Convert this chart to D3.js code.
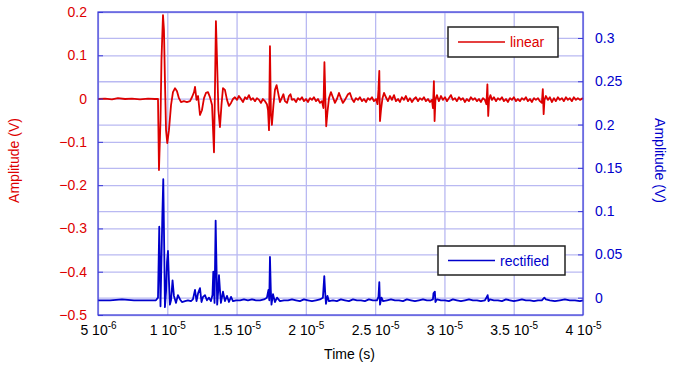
<!DOCTYPE html>
<html>
<head>
<meta charset="utf-8">
<script src="https://cdn.jsdelivr.net/npm/d3@7"></script>
<style>
  body { margin: 0; background: #fff; }
  text { font-family: "Liberation Sans", Arial, sans-serif; }
  .grid line { stroke: #b9b9f2; stroke-width: 1.3; }
  .grid path { display: none; }
  .axis path { display: none; }
  .axis line { stroke: #3a3ad8; }
</style>
</head>
<body>
<script>
// time in microseconds, amplitudes in volts

var linearTime = [5.00, 5.51, 6.01, 6.44, 6.95, 7.45, 8.03, 8.61, 9.11, 9.33,
  9.40, 9.51, 9.58, 9.69, 9.76, 9.83, 9.91, 10.00, 10.12, 10.27,
  10.41, 10.56, 10.70, 10.84, 10.99, 11.20, 11.42, 11.64, 11.78, 11.93,
  12.00, 12.11, 12.22, 12.36, 12.50, 12.65, 12.79, 12.94, 13.08, 13.23,
  13.37, 13.44, 13.51, 13.59, 13.69, 13.80, 13.91, 14.02, 14.16, 14.31,
  14.45, 14.60, 14.74, 14.88, 15.03, 15.17, 15.32, 15.46, 15.61, 15.75,
  15.89, 16.04, 16.18, 16.33, 16.47, 16.62, 16.76, 16.90, 17.05, 17.19,
  17.27, 17.34, 17.41, 17.48, 17.55, 17.66, 17.77, 17.89, 17.99, 18.13,
  18.28, 18.38, 18.49, 18.64, 18.78, 18.89, 19.00, 19.14, 19.29, 19.43,
  19.57, 19.72, 19.86, 20.01, 20.15, 20.30, 20.44, 20.58, 20.73, 20.87,
  21.02, 21.16, 21.27, 21.34, 21.41, 21.47, 21.56, 21.67, 21.81, 21.95,
  22.10, 22.24, 22.39, 22.53, 22.67, 22.82, 23.04, 23.18, 23.33, 23.47,
  23.61, 23.76, 23.90, 24.05, 24.19, 24.34, 24.48, 24.62, 24.77, 24.91,
  25.06, 25.17, 25.24, 25.30, 25.35, 25.42, 25.53, 25.64, 25.78, 25.92,
  26.07, 26.21, 26.36, 26.50, 26.65, 26.79, 26.93, 27.08, 27.22, 27.37,
  27.51, 27.66, 27.80, 27.94, 28.09, 28.23, 28.38, 28.52, 28.66, 28.81,
  28.95, 29.10, 29.17, 29.24, 29.29, 29.35, 29.46, 29.60, 29.75, 29.89,
  30.04, 30.18, 30.32, 30.47, 30.61, 30.76, 30.90, 31.05, 31.19, 31.33,
  31.48, 31.62, 31.77, 31.91, 32.06, 32.20, 32.35, 32.49, 32.63, 32.78,
  32.92, 33.03, 33.10, 33.16, 33.22, 33.32, 33.43, 33.57, 33.72, 33.86,
  34.00, 34.15, 34.29, 34.44, 34.58, 34.73, 34.87, 35.01, 35.16, 35.30,
  35.45, 35.59, 35.74, 35.88, 36.02, 36.17, 36.31, 36.46, 36.60, 36.75,
  36.89, 37.03, 37.10, 37.16, 37.22, 37.32, 37.47, 37.61, 37.76, 37.90,
  38.04, 38.19, 38.33, 38.48, 38.62, 38.77, 38.91, 39.05, 39.20, 39.34,
  39.49, 39.63, 39.78, 40.00];

var linearValue = [-0.001, 0.000, -0.002, 0.001, -0.001, 0.000, -0.002, 0.000, -0.001, -0.001,
  -0.165, -0.050, 0.089, 0.193, 0.158, 0.043, -0.073, -0.103, -0.073, -0.015,
  0.015, 0.024, 0.017, 0.001, -0.008, -0.006, -0.008, -0.006, 0.003, 0.015,
  0.027, -0.003, 0.006, -0.038, -0.027, 0.001, 0.013, 0.015, 0.003, -0.015,
  -0.124, 0.020, 0.179, 0.089, -0.027, -0.066, -0.015, 0.024, 0.020, -0.003,
  -0.017, -0.010, -0.001, 0.003, -0.003, 0.006, -0.001, -0.008, 0.003, -0.001,
  0.008, -0.003, 0.001, -0.006, 0.001, -0.003, -0.010, -0.001, -0.006, -0.013,
  -0.027, -0.073, 0.121, -0.038, -0.061, -0.015, 0.020, 0.031, 0.015, -0.008,
  0.003, 0.010, -0.006, -0.010, 0.006, 0.010, -0.003, -0.001, -0.008, 0.001,
  -0.003, 0.003, -0.006, -0.001, -0.008, 0.001, -0.003, 0.003, -0.006, -0.001,
  -0.010, -0.006, -0.022, 0.084, -0.003, -0.064, -0.031, 0.001, 0.015, 0.003,
  -0.010, -0.001, 0.013, 0.001, -0.010, -0.003, 0.010, 0.013, -0.001, -0.008,
  0.001, -0.003, 0.003, -0.006, -0.001, -0.008, 0.001, -0.003, 0.003, -0.006,
  -0.001, -0.013, 0.020, 0.064, -0.052, -0.027, 0.001, 0.013, 0.003, -0.006,
  0.006, -0.003, 0.008, -0.006, -0.001, -0.008, 0.003, -0.003, 0.006, -0.006,
  0.001, -0.008, -0.001, 0.003, -0.006, 0.001, -0.003, 0.003, -0.006, -0.001,
  -0.008, -0.003, -0.022, 0.040, -0.052, -0.003, 0.008, -0.006, 0.006, -0.003,
  0.003, -0.006, 0.001, 0.008, -0.003, 0.001, -0.006, 0.003, -0.003, 0.001,
  -0.008, -0.001, -0.006, 0.003, -0.003, 0.001, -0.006, -0.001, -0.008, 0.001,
  -0.003, -0.013, 0.033, -0.040, -0.003, 0.008, -0.003, 0.003, -0.006, 0.001,
  -0.003, 0.003, -0.006, -0.001, -0.008, 0.001, -0.003, 0.003, -0.006, -0.001,
  -0.006, 0.001, -0.003, 0.003, -0.006, -0.001, -0.008, 0.001, -0.003, 0.001,
  -0.006, -0.010, 0.022, -0.036, -0.003, 0.006, -0.003, 0.003, -0.008, 0.001,
  -0.006, 0.003, -0.003, 0.001, -0.006, 0.003, -0.003, 0.001, -0.006, 0.003,
  -0.003, 0.001, -0.003, 0.001];

var rectTime = [5.00, 5.87, 6.73, 7.60, 8.46, 9.18, 9.33, 9.42, 9.51, 9.58,
  9.64, 9.71, 9.78, 9.83, 9.91, 9.98, 10.05, 10.12, 10.19, 10.27,
  10.38, 10.48, 10.63, 10.77, 10.92, 11.06, 11.28, 11.49, 11.71, 11.85,
  12.00, 12.11, 12.22, 12.36, 12.47, 12.58, 12.72, 12.86, 13.01, 13.15,
  13.26, 13.32, 13.41, 13.49, 13.55, 13.60, 13.68, 13.73, 13.80, 13.87,
  14.02, 14.16, 14.31, 14.45, 14.60, 14.74, 14.96, 15.25, 15.53, 15.82,
  16.11, 16.40, 16.69, 16.98, 17.19, 17.30, 17.36, 17.41, 17.47, 17.52,
  17.63, 17.77, 17.92, 18.13, 18.42, 18.71, 19.00, 19.29, 19.57, 19.86,
  20.15, 20.44, 20.73, 21.02, 21.23, 21.33, 21.39, 21.45, 21.56, 21.67,
  21.95, 22.24, 22.53, 22.82, 23.11, 23.40, 23.69, 23.98, 24.26, 24.55,
  24.84, 25.13, 25.24, 25.30, 25.35, 25.46, 25.57, 25.86, 26.14, 26.43,
  26.72, 27.01, 27.29, 27.58, 27.87, 28.16, 28.45, 28.74, 29.02, 29.17,
  29.21, 29.31, 29.35, 29.46, 29.75, 30.04, 30.32, 30.61, 30.90, 31.19,
  31.48, 31.77, 32.06, 32.35, 32.63, 32.92, 33.07, 33.12, 33.18, 33.28,
  33.57, 33.86, 34.15, 34.44, 34.73, 35.01, 35.30, 35.59, 35.88, 36.17,
  36.46, 36.75, 37.03, 37.21, 37.32, 37.61, 37.97, 38.33, 38.69, 39.05,
  39.42, 39.78, 40.00];

var rectValue = [-0.003, -0.003, -0.002, -0.003, -0.003, -0.003, 0.000, 0.082, -0.010, 0.044,
  0.092, 0.137, 0.055, -0.011, 0.007, 0.041, 0.054, 0.020, -0.008, -0.003,
  0.020, 0.002, -0.006, 0.003, -0.002, -0.005, -0.004, -0.003, -0.004, -0.002,
  0.009, -0.004, 0.005, 0.011, -0.005, 0.001, 0.003, -0.003, 0.000, -0.004,
  0.003, 0.030, -0.006, 0.089, 0.038, -0.008, 0.009, 0.026, 0.009, -0.006,
  0.007, -0.004, 0.002, -0.005, 0.001, -0.004, -0.003, -0.003, -0.002, -0.003,
  -0.002, -0.003, -0.003, -0.002, 0.000, 0.009, -0.003, 0.047, 0.009, -0.008,
  0.004, -0.005, 0.000, -0.004, -0.003, -0.003, -0.002, -0.003, -0.004, -0.002,
  -0.003, -0.004, -0.003, -0.002, 0.000, 0.025, 0.007, -0.007, 0.002, -0.004,
  -0.003, -0.004, -0.002, -0.003, -0.004, -0.002, -0.003, -0.003, -0.004, -0.002,
  -0.003, -0.003, 0.001, 0.018, -0.008, 0.000, -0.004, -0.003, -0.002, -0.003,
  -0.003, -0.004, -0.002, -0.003, -0.004, -0.003, -0.002, -0.003, -0.003, -0.002,
  0.005, 0.007, -0.005, -0.002, -0.003, -0.003, -0.004, -0.002, -0.003, -0.004,
  -0.003, -0.002, -0.003, -0.003, -0.004, -0.003, 0.001, 0.003, -0.004, -0.002,
  -0.003, -0.003, -0.004, -0.002, -0.003, -0.004, -0.003, -0.002, -0.003, -0.003,
  -0.004, -0.003, -0.003, 0.000, -0.002, -0.003, -0.004, -0.003, -0.002, -0.003,
  -0.003, -0.004, -0.003];

var xTicks = [5, 10, 15, 20, 25, 30, 35, 40];
var xTickMantissa = ["5", "1", "1.5", "2", "2.5", "3", "3.5", "4"];
var xTickExponent = ["-6", "-5", "-5", "-5", "-5", "-5", "-5", "-5"];
var leftTicks = [0.2, 0.1, 0, -0.1, -0.2, -0.3, -0.4, -0.5];
var rightTicks = [0.3, 0.25, 0.2, 0.15, 0.1, 0.05, 0];

var margin = { top: 12, right: 92, bottom: 53, left: 98 };
var width = 675 - margin.left - margin.right;   // 485
var height = 368 - margin.top - margin.bottom;  // 303

var red = "#dd0000";
var blue = "#0000cc";

var svg = d3.select("body").append("svg")
    .attr("width", 675)
    .attr("height", 368)
    .append("g")
    .attr("transform", "translate(" + margin.left + "," + margin.top + ")");

var x = d3.scaleLinear().domain([5, 40]).range([0, width]);
var yLeft = d3.scaleLinear().domain([-0.5, 0.2]).range([height, 0]);
var yRight = d3.scaleLinear().domain([-0.02, 0.33]).range([height, 0]);

// grid lines
svg.append("g")
    .attr("class", "grid")
    .attr("transform", "translate(0," + height + ")")
    .call(d3.axisBottom(x).tickValues(xTicks).tickSize(-height).tickFormat(""));
svg.append("g")
    .attr("class", "grid")
    .call(d3.axisLeft(yLeft).tickValues(leftTicks).tickSize(-width).tickFormat(""));
svg.append("g")
    .attr("class", "grid")
    .call(d3.axisLeft(yRight).tickValues(rightTicks).tickSize(-width).tickFormat(""));

// series
var rectData = rectTime.map(function(t, i) { return { t: t, v: rectValue[i] }; });
var linData = linearTime.map(function(t, i) { return { t: t, v: linearValue[i] }; });

var rectLine = d3.line()
    .x(function(d) { return x(d.t); })
    .y(function(d) { return yRight(d.v); });
var linLine = d3.line()
    .x(function(d) { return x(d.t); })
    .y(function(d) { return yLeft(d.v); });

svg.append("path")
    .datum(rectData)
    .attr("fill", "none")
    .attr("stroke", blue)
    .attr("stroke-width", 1.8)
    .attr("stroke-linejoin", "round")
    .attr("d", rectLine);

svg.append("path")
    .datum(linData)
    .attr("fill", "none")
    .attr("stroke", red)
    .attr("stroke-width", 1.8)
    .attr("stroke-linejoin", "round")
    .attr("d", linLine);

// frame
svg.append("rect")
    .attr("width", width)
    .attr("height", height)
    .attr("fill", "none")
    .attr("stroke", "#3a3ad8")
    .attr("stroke-width", 1.2);

// left axis
var leftAxis = svg.append("g")
    .attr("class", "axis")
    .call(d3.axisLeft(yLeft).tickValues(leftTicks).tickSize(-5).tickPadding(11)
        .tickFormat(function(d) { return d === 0 ? "0" : d3.format(".1f")(d); }));
leftAxis.selectAll("text")
    .attr("fill", red)
    .style("font-size", "14px");

// right axis
var rightAxis = svg.append("g")
    .attr("class", "axis")
    .attr("transform", "translate(" + width + ",0)")
    .call(d3.axisRight(yRight).tickValues(rightTicks).tickSize(-5).tickPadding(12)
        .tickFormat(function(d) { return d === 0 ? "0" : String(d); }));
rightAxis.selectAll("text")
    .attr("fill", blue)
    .style("font-size", "14px");

// bottom axis with "m 10^e" labels
var bottomAxis = svg.append("g")
    .attr("class", "axis")
    .attr("transform", "translate(0," + height + ")")
    .call(d3.axisBottom(x).tickValues(xTicks).tickSize(0).tickFormat(""));

bottomAxis.selectAll(".tick")
    .append("text")
    .attr("y", 20)
    .attr("text-anchor", "middle")
    .attr("fill", "#000")
    .style("font-size", "14px")
    .each(function(d, i) {
        var t = d3.select(this);
        t.append("tspan").text(xTickMantissa[i] + " 10");
        t.append("tspan")
            .attr("dy", -6)
            .style("font-size", "10px")
            .text(xTickExponent[i]);
    });

// axis titles
svg.append("text")
    .attr("x", width / 2 + 9)
    .attr("y", height + 44)
    .attr("text-anchor", "middle")
    .style("font-size", "14px")
    .attr("fill", "#000")
    .text("Time (s)");

svg.append("text")
    .attr("transform", "rotate(-90)")
    .attr("x", -(height / 2) + 3)
    .attr("y", -margin.left + 19)
    .attr("text-anchor", "middle")
    .style("font-size", "14px")
    .attr("fill", red)
    .text("Amplitude (V)");

svg.append("text")
    .attr("transform", "translate(" + (width + 72) + "," + (height / 2 - 3) + ") rotate(90)")
    .attr("text-anchor", "middle")
    .style("font-size", "14px")
    .attr("fill", blue)
    .text("Amplitude (V)");

// legends
function legendBox(x0, y0, w, h, color, label) {
    var g = svg.append("g")
        .attr("transform", "translate(" + (x0 - margin.left) + "," + (y0 - margin.top) + ")");
    g.append("rect")
        .attr("width", w)
        .attr("height", h)
        .attr("fill", "#fff")
        .attr("stroke", "#222")
        .attr("stroke-width", 1.5);
    g.append("line")
        .attr("x1", 10).attr("x2", 57)
        .attr("y1", h / 2).attr("y2", h / 2)
        .attr("stroke", color)
        .attr("stroke-width", 1.5);
    g.append("text")
        .attr("x", 62)
        .attr("y", h / 2 + 5)
        .attr("fill", color)
        .style("font-size", "14px")
        .text(label);
}
legendBox(448, 27, 110, 30, red, "linear");
legendBox(438, 246, 127, 29, blue, "rectified");
</script>
</body>
</html>
